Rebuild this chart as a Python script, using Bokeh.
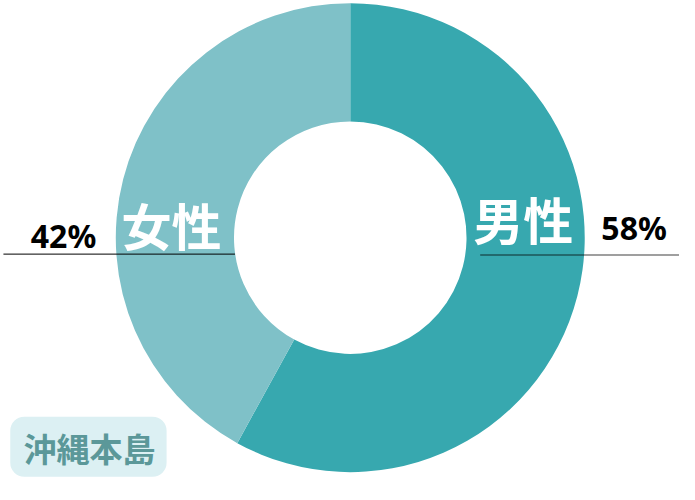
import math
from bokeh.plotting import figure
from bokeh.models import Range1d, BoxAnnotation
from bokeh.core.properties import value
from bokeh.embed import file_html
from bokeh.resources import INLINE

categories = ["男性", "女性"]
shares = [58, 42]
pct_labels = ["58%", "42%"]
colors = ["#37a8af", "#7fc1c8"]
region = "沖縄本島"

W, H = 679, 484
p = figure(width=W, height=H, output_backend="svg", toolbar_location=None,
           x_range=Range1d(-358, 337), y_range=Range1d(-255, 245),
           min_border=0)
p.axis.visible = False
p.grid.visible = False
p.outline_line_color = None
p.background_fill_color = "white"

total = sum(shares)
start = math.pi / 2
starts, ends = [], []
for s in shares:
    end = start - 2 * math.pi * s / total
    starts.append(start)
    ends.append(end)
    start = end

p.annular_wedge(x=[0, 0], y=[0, 0], inner_radius=119, outer_radius=240,
                start_angle=starts, end_angle=ends, direction="clock",
                fill_color=colors, line_color=None)

CJK = value("Noto Sans CJK JP")

# category labels
p.text(x=[177, -183], y=[20, 14], text=categories, text_color="white",
       text_font=CJK, text_font_style="bold", text_font_size="50px",
       text_align="center", text_baseline="middle")

# leader lines
p.segment(x0=[-355], y0=[-17], x1=[-118], y1=[-17], line_color="black", line_width=1)
p.segment(x0=[133], y0=[-18], x1=[340], y1=[-18], line_color="black",
          line_alpha=0.5, line_width=1.5)

# percent labels
p.text(x=[257], y=[11], text=[pct_labels[0]], text_color="black",
       text_font=value("Noto Sans"), text_font_style="bold", text_font_size="32px",
       text_align="left", text_baseline="middle")
p.text(x=[-260], y=[2], text=[pct_labels[1]], text_color="black",
       text_font=value("Noto Sans"), text_font_style="bold", text_font_size="32px",
       text_align="right", text_baseline="middle")

# region badge
p.add_layout(BoxAnnotation(left=-348, right=-188, top=-185, bottom=-247,
                           fill_color="#dcf0f3", fill_alpha=1, line_color=None,
                           border_radius=14, level="underlay"))
p.text(x=[-267], y=[-217], text=[region], text_color="#5b9899",
       text_font=CJK, text_font_style="bold", text_font_size="33px",
       text_align="center", text_baseline="middle")

open("out.html", "w").write(file_html(p, INLINE))
